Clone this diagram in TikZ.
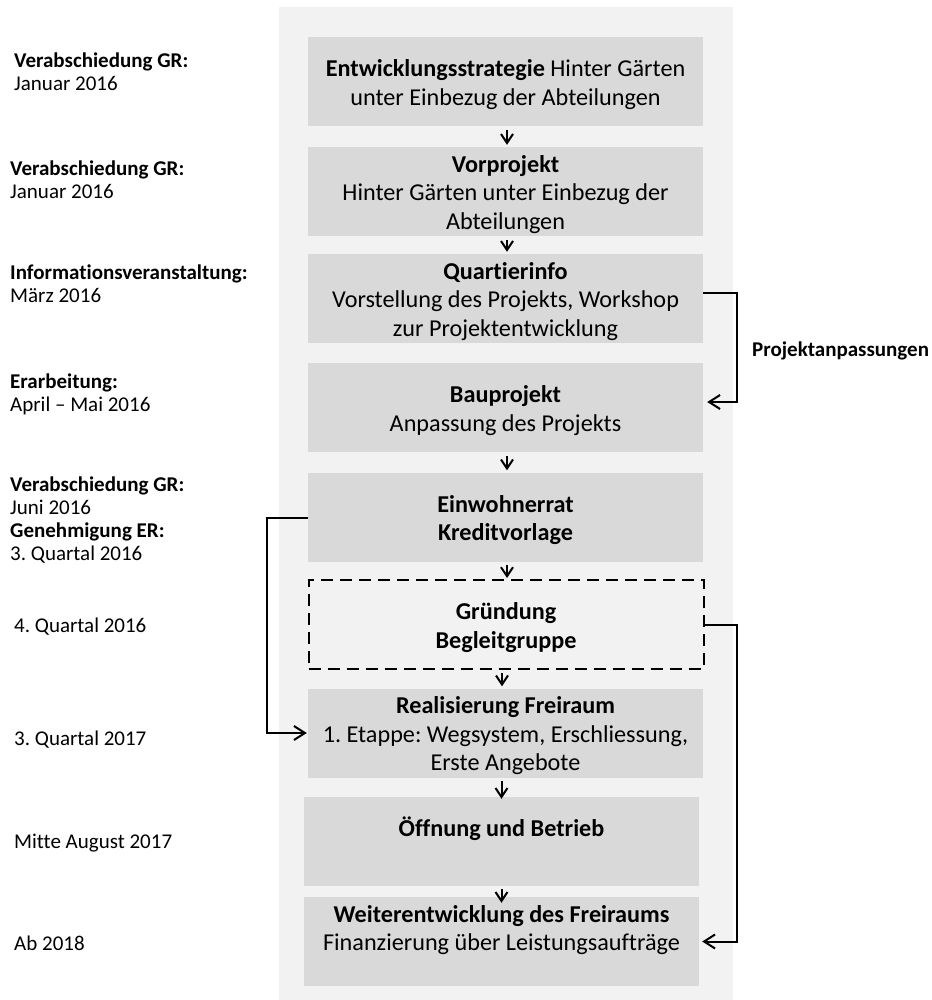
\documentclass[tikz,border=0pt]{standalone}
\usepackage{fontspec}
\setmainfont{Carlito}[Ligatures=NoCommon]
\usetikzlibrary{arrows.meta,positioning}
\definecolor{panel}{HTML}{F2F2F2}
\definecolor{boxfill}{HTML}{D9D9D9}
\begin{document}
\begin{tikzpicture}[x=1pt,y=-1pt,
  stage/.style={fill=boxfill,draw=none,minimum width=395pt,minimum height=89pt,inner sep=0pt},
  dstage/.style={stage,fill=none,draw=black,dash pattern=on 12pt off 7pt,line width=2pt},
  stxt/.style={inner sep=0pt,align=center,font=\fontsize{24.2}{28.5}\selectfont\frenchspacing},
  lab/.style={anchor=west,align=left,inner sep=0pt,font=\fontsize{21}{23}\selectfont\frenchspacing},
  arr/.style={line width=2pt,-{Straight Barb[length=9pt,width=12pt,line width=2pt]}},
  conn/.style={line width=2pt,-{Straight Barb[length=11pt,width=14pt,line width=2pt]}}]
\useasboundingbox (0,0) rectangle (931,1000);
\fill[panel] (279,7) rectangle (733,1000);
% stages
\node[stage] (b1) at (505.5,81.5) {};
\node[stage] (b2) at (505.5,191.5) {};
\node[stage] (b3) at (505.5,298.5) {};
\node[stage] (b4) at (505.5,407.5) {};
\node[stage] (b5) at (505.5,517) {};
\node[dstage] (b6) at (506,624.5) {};
\node[stage] (b7) at (505.5,733) {};
\node[stage] (b8) at (501.5,841.5) {};
\node[stage] (b9) at (501.5,941.5) {};
% stage texts
\node[stxt] (t1) at ([yshift=-3pt]b1.center) {\textbf{Entwicklungsstrategie} Hinter Gärten\\unter Einbezug der Abteilungen};
\node[stxt] (t2) at ([yshift=-3pt]b2.center) {\textbf{Vorprojekt}\\Hinter Gärten unter Einbezug der\\Abteilungen};
\node[stxt] (t3) at ([yshift=-3pt]b3.center) {\textbf{Quartierinfo}\\Vorstellung des Projekts, Workshop\\zur Projektentwicklung};
\node[stxt] (t4) at ([yshift=-3pt]b4.center) {\textbf{Bauprojekt}\\Anpassung des Projekts};
\node[stxt] (t5) at ([yshift=-3pt]b5.center) {\textbf{Einwohnerrat}\\\textbf{Kreditvorlage}};
\node[stxt] (t6) at ([yshift=-3pt]b6.center) {\textbf{Gründung}\\\textbf{Begleitgruppe}};
\node[stxt] (t7) at ([yshift=-3pt]b7.center) {\textbf{Realisierung Freiraum}\\1. Etappe: Wegsystem, Erschliessung,\\Erste Angebote};
\node[stxt,anchor=base] (t8) at (501.5,836) {\textbf{Öffnung und Betrieb}};
\node[stxt] (t9) at ([yshift=11.5pt]b9.center) {\textbf{Weiterentwicklung des Freiraums}\\Finanzierung über Leistungsaufträge};
% left labels
\node[lab] (l1) at (14,72) {\textbf{Verabschiedung GR:}\\Januar 2016};
\node[lab] (l2) at (10,180) {\textbf{Verabschiedung GR:}\\Januar 2016};
\node[lab] (l3) at (10,284) {\textbf{Informationsveranstaltung:}\\März 2016};
\node[lab] (l4) at (10,394) {\textbf{Erarbeitung:}\\April – Mai 2016};
\node[lab] (l5) at (10,520) {\textbf{Verabschiedung GR:}\\Juni 2016\\\textbf{Genehmigung ER:}\\3. Quartal 2016};
\node[lab] (l6) at (14,627) {4. Quartal 2016};
\node[lab] (l7) at (14,740) {3. Quartal 2017};
\node[lab] (l8) at (14,843) {Mitte August 2017};
\node[lab] (l9) at (14,943) {Ab 2018};
\node[lab] (pa) at (752,351) {\textbf{Projektanpassungen}};
% arrows
\draw[arr] ([xshift=1.5pt,yshift=-4pt]b1.south) -- ([xshift=1.5pt,yshift=2pt]b2.north);
\draw[arr] ([xshift=1.5pt,yshift=-4pt]b2.south) -- ([xshift=1.5pt,yshift=2pt]b3.north);
\draw[arr] ([xshift=1.5pt,yshift=-4pt]b4.south) -- ([xshift=1.5pt,yshift=2pt]b5.north);
\draw[arr] ([xshift=1.5pt,yshift=-3pt]b5.south) -- ([xshift=1pt,yshift=1pt]b6.north);
\draw[arr] ([xshift=-4pt,yshift=-3pt]b6.south) -- ([xshift=-3.5pt,yshift=2pt]b7.north);
\draw[arr,shorten <=3pt,shorten >=-2pt] (b7.south -| b8.north) -- (b8.north);
\draw[arr] ([yshift=-3pt]b8.south) -- ([yshift=-6pt]b9.north);
% feedback connectors
\draw[conn] ([yshift=5.5pt]b3.east) -- ++(34,0) |- ([xshift=4pt,yshift=5.5pt]b4.east);
\draw[conn] ([yshift=-1pt]b5.west) -- ++(-41,0) |- ([xshift=-1pt]b7.west);
\draw[conn] ([xshift=0.5pt]b6.east) -- ++(32,0) |- ([xshift=3pt]b9.east);
\end{tikzpicture}
\end{document}
